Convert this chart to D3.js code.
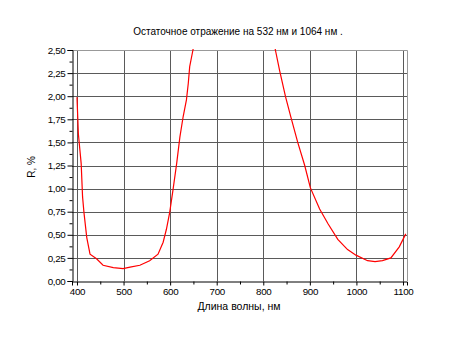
<!DOCTYPE html>
<html><head><meta charset="utf-8">
<script src="https://cdn.jsdelivr.net/npm/d3@7"></script>
<style>body{margin:0;background:#fff}svg{display:block}text{font-family:"Liberation Sans",Arial,sans-serif;fill:#000}</style>
</head><body>
<script>
const title = "Остаточное отражение на 532 нм  и 1064 нм .";
const xLabel = "Длина волны, нм";
const yLabel = "R, %";
const xTicks = [400,500,600,700,800,900,1000,1100];
const yTicks = [0,0.25,0.5,0.75,1,1.25,1.5,1.75,2,2.25,2.5];
const wavelength = [400,403,409,412,415,421,428,442,456,478,499,514,535,556,574,585,592,599,606,614,621,628,635,639,642,649,656,740,820,826,835,848,860,874,889,901,921,939,960,981,999,1024,1040,1056,1074,1092,1106];
const reflect    = [1.99,1.59,1.27,0.91,0.74,0.47,0.29,0.24,0.17,0.145,0.134,0.15,0.17,0.22,0.29,0.42,0.56,0.74,0.98,1.27,1.56,1.78,1.96,2.14,2.32,2.5,2.7,6,2.7,2.5,2.28,1.99,1.76,1.5,1.25,1.01,0.78,0.62,0.45,0.34,0.28,0.22,0.21,0.22,0.25,0.37,0.51];

const W=450,H=337;
const svg=d3.select("body").append("svg").attr("width",W).attr("height",H);
const x=d3.scaleLinear().domain([389.3,1108.6]).range([72,407]);
const y=d3.scaleLinear().domain([0,2.5]).range([281,50]);

// grid
svg.append("g").selectAll("line").data(xTicks).join("line")
  .attr("x1",d=>Math.round(x(d))+0.5).attr("x2",d=>Math.round(x(d))+0.5)
  .attr("y1",50).attr("y2",281).attr("stroke","#5a5a5a").attr("stroke-width",1);
svg.append("g").selectAll("line").data(yTicks.filter(d=>d>0)).join("line")
  .attr("x1",72).attr("x2",407)
  .attr("y1",d=>Math.round(y(d))+0.5).attr("y2",d=>Math.round(y(d))+0.5)
  .attr("stroke","#5a5a5a").attr("stroke-width",1);
// frame top/right
svg.append("path").attr("d","M72,50.5H407.5V281").attr("fill","none").attr("stroke","#999");

// curve
svg.append("clipPath").attr("id","c").append("rect").attr("x",72).attr("y",49).attr("width",336).attr("height",233);
svg.append("path").datum(wavelength.map((w,i)=>[w,reflect[i]]))
  .attr("clip-path","url(#c)")
  .attr("d",d3.line().x(d=>x(d[0])).y(d=>y(d[1])))
  .attr("fill","none").attr("stroke","#ff0000").attr("stroke-width",1.2);

// axes
const fmt=d=>d3.format(".2f")(d).replace(".",",");
svg.append("g").attr("transform","translate(0,281.5)")
  .call(d3.axisBottom(x).tickValues(xTicks).tickSize(4).tickPadding(3).tickFormat(d3.format("d")));
svg.append("g").attr("transform","translate(0,281.5)")
  .call(d3.axisBottom(x).tickValues(d3.range(450,1101,100)).tickSize(3).tickFormat(""))
  .select(".domain").remove();
svg.append("g").attr("transform","translate(72.5,0)")
  .call(d3.axisLeft(y).tickValues(yTicks).tickSize(5).tickPadding(2).tickFormat(fmt));
svg.append("g").attr("transform","translate(72.5,0)")
  .call(d3.axisLeft(y).tickValues(d3.range(0.125,2.5,0.25)).tickSize(3).tickFormat(""))
  .select(".domain").remove();
svg.selectAll(".tick text").attr("font-size",9.8).attr("font-family","Liberation Sans, Arial, sans-serif").attr("letter-spacing","-0.3");
svg.selectAll(".domain").attr("stroke","#000");
svg.selectAll(".tick line").attr("stroke","#000");

svg.append("text").attr("x",238).attr("y",35).attr("text-anchor","middle").attr("font-size",10).attr("letter-spacing","0").text(title);
svg.append("text").attr("x",239).attr("y",310).attr("text-anchor","middle").attr("font-size",10.5).attr("letter-spacing","0").text(xLabel);
svg.append("text").attr("transform","translate(35,167) rotate(-90)").attr("text-anchor","middle").attr("font-size",10).text(yLabel);
</script>
</body></html>
